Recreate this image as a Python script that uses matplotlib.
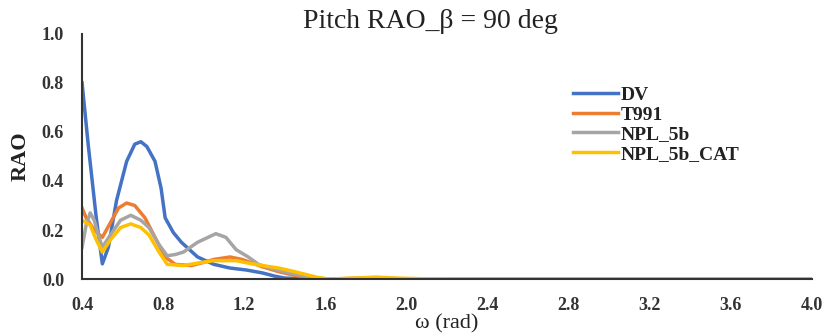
import numpy as np
import matplotlib.pyplot as plt

# ===== Data =====
w_dv = [0.40, 0.43, 0.47, 0.50, 0.53, 0.57, 0.62, 0.66, 0.69, 0.72, 0.76, 0.79, 0.81, 0.85, 0.89, 0.93, 0.97,
        1.05, 1.13, 1.21, 1.29, 1.35, 1.40, 1.50, 1.60, 1.80, 2.00, 2.40, 2.80, 3.20, 3.60, 4.00]
rao_dv = [0.80, 0.55, 0.25, 0.062, 0.13, 0.32, 0.48, 0.55, 0.56, 0.54, 0.48, 0.37, 0.25, 0.19, 0.15, 0.12, 0.09,
          0.06, 0.045, 0.037, 0.025, 0.012, 0.004, 0.001, 0.0, 0.0, 0.0, 0.0, 0.0, 0.0, 0.0, 0.0]

w_t991 = [0.40, 0.42, 0.46, 0.50, 0.54, 0.58, 0.62, 0.66, 0.71, 0.76, 0.81, 0.86, 0.94, 1.00, 1.05, 1.13,
          1.19, 1.29, 1.37, 1.45, 1.52, 1.60, 1.80, 2.00, 2.40, 2.80, 3.20, 3.60, 4.00]
rao_t991 = [0.29, 0.25, 0.20, 0.17, 0.23, 0.29, 0.31, 0.30, 0.25, 0.17, 0.09, 0.06, 0.055, 0.068, 0.08, 0.09,
            0.08, 0.05, 0.03, 0.015, 0.006, 0.0, 0.004, 0.001, 0.0, 0.0, 0.0, 0.0, 0.0]

w_npl = [0.40, 0.42, 0.44, 0.46, 0.48, 0.50, 0.54, 0.59, 0.64, 0.69, 0.73, 0.78, 0.82, 0.86, 0.90, 0.97,
         1.06, 1.11, 1.16, 1.22, 1.27, 1.35, 1.45, 1.53, 1.60, 1.80, 2.00, 2.40, 2.80, 3.20, 3.60, 4.00]
rao_npl = [0.13, 0.22, 0.27, 0.24, 0.18, 0.13, 0.18, 0.24, 0.26, 0.24, 0.21, 0.14, 0.095, 0.10, 0.11, 0.15,
           0.185, 0.17, 0.12, 0.09, 0.06, 0.04, 0.02, 0.008, 0.0, 0.003, 0.001, 0.0, 0.0, 0.0, 0.0, 0.0]

w_cat = [0.40, 0.44, 0.47, 0.50, 0.54, 0.59, 0.64, 0.69, 0.73, 0.78, 0.82, 0.90, 0.97, 1.05, 1.16,
         1.22, 1.29, 1.37, 1.45, 1.56, 1.62, 1.75, 1.85, 1.95, 2.10, 2.40, 2.80, 3.20, 3.60, 4.00]
rao_cat = [0.24, 0.22, 0.16, 0.11, 0.16, 0.21, 0.225, 0.21, 0.18, 0.11, 0.06, 0.055, 0.065, 0.075, 0.075,
           0.065, 0.055, 0.045, 0.03, 0.007, 0.0, 0.004, 0.008, 0.004, 0.001, 0.0, 0.0, 0.0, 0.0, 0.0]

x_ticks = [0.4, 0.8, 1.2, 1.6, 2.0, 2.4, 2.8, 3.2, 3.6, 4.0]
y_ticks = [0.0, 0.2, 0.4, 0.6, 0.8, 1.0]

# ===== Figure =====
plt.rcParams['font.family'] = ['Liberation Serif', 'DejaVu Serif']
fig = plt.figure(figsize=(8.29, 3.35), dpi=100)
ax = fig.add_axes([0.099, 0.167, 0.880, 0.732])

ax.plot(w_dv, rao_dv, color='#4472C4', lw=2.5, label='DV', solid_joinstyle='round')
ax.plot(w_t991, rao_t991, color='#ED7D31', lw=2.5, label='T991', solid_joinstyle='round')
ax.plot(w_npl, rao_npl, color='#A5A5A5', lw=2.5, label='NPL_5b', solid_joinstyle='round')
ax.plot(w_cat, rao_cat, color='#FFC000', lw=2.5, label='NPL_5b_CAT', solid_joinstyle='round')

ax.set_xlim(0.4, 4.0)
ax.set_ylim(0.0, 1.0)
ax.set_xticks(x_ticks)
ax.set_yticks(y_ticks)
ax.set_xticklabels([f"{t:.1f}" for t in x_ticks], fontweight='bold')
ax.set_yticklabels([f"{t:.1f}" for t in y_ticks], fontweight='bold')
ax.tick_params(length=0, labelsize=13, pad=13, labelcolor='#333333')
for s in ['top', 'right']:
    ax.spines[s].set_visible(False)
for s in ['left', 'bottom']:
    ax.spines[s].set_linewidth(1.5)
    ax.spines[s].set_color('#333333')

# title sits a little left of the axes centre in the original
ax.set_title('Pitch RAO_β = 90 deg', fontsize=20, pad=1, color='#222222', x=0.477)
ax.set_xlabel('ω (rad)', fontsize=16, labelpad=0, color='#222222')
ax.set_ylabel('RAO', fontsize=16, fontweight='bold', labelpad=8, color='#222222')

leg = ax.legend(loc='upper left', bbox_to_anchor=(0.66, 0.825), frameon=False,
                prop={'size': 14, 'weight': 'bold'},
                handlelength=2.3, handletextpad=0.15, labelspacing=0.1, borderpad=0)
for t in leg.get_texts():
    t.set_color('#222222')

plt.savefig('out.png', dpi=100)
